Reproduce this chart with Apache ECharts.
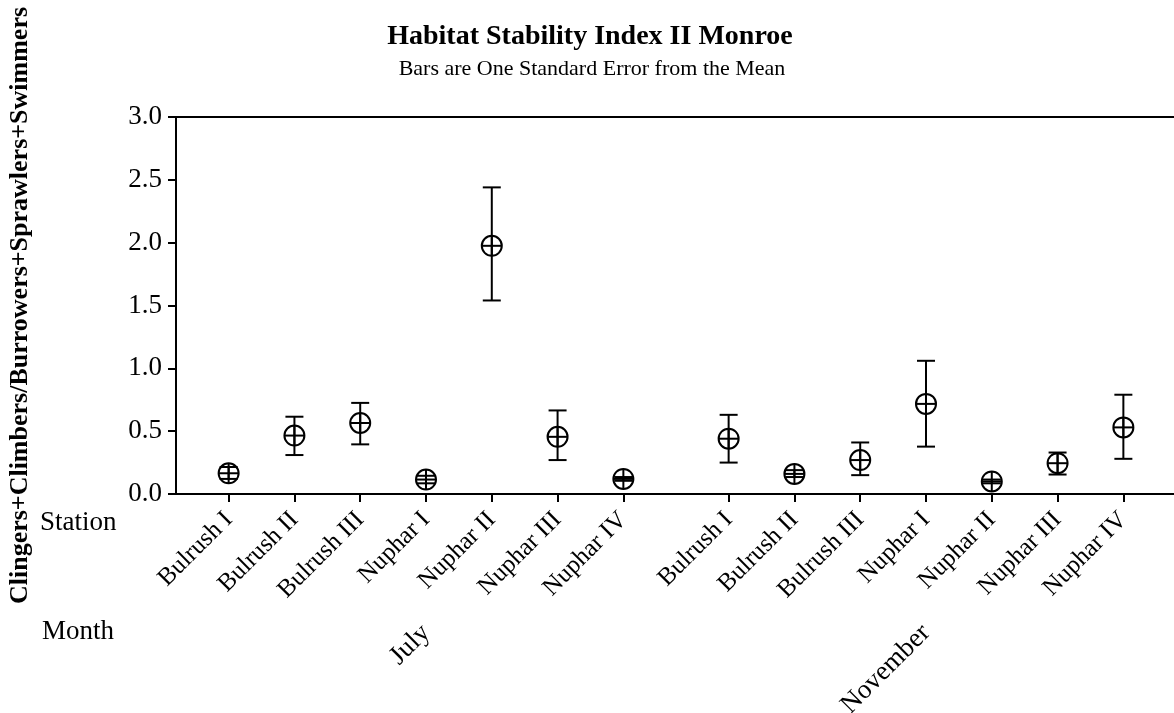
<!DOCTYPE html>
<html>
<head>
<meta charset="utf-8">
<script src="https://cdn.jsdelivr.net/npm/echarts@6/dist/echarts.min.js"></script>
<style>
html,body{margin:0;padding:0;background:#fff;}
#chart{width:1174px;height:713px;}
</style>
</head>
<body>
<div id="chart"></div>
<script>
// ---- data ----
var stations = ['Bulrush I','Bulrush II','Bulrush III','Nuphar I','Nuphar II','Nuphar III','Nuphar IV'];
var months = ['July','November'];
var means = [0.165,0.465,0.565,0.115,1.975,0.455,0.12, 0.44,0.16,0.27,0.717,0.10,0.245,0.53];
var lowers = [0.12,0.31,0.395,0.085,1.54,0.27,0.105, 0.25,0.135,0.15,0.377,0.085,0.155,0.28];
var uppers = [0.215,0.615,0.725,0.145,2.44,0.665,0.135, 0.63,0.19,0.41,1.06,0.115,0.33,0.79];

var FONT = "'Liberation Serif','Times New Roman',serif";
var groupGap = 0.6;
var positions = [], labelMap = {}, monthCenters = [], monthMap = {};
months.forEach(function(m, mi){
  stations.forEach(function(s, si){
    var p = mi*(stations.length + groupGap) + si;
    positions.push(p);
    labelMap[p.toFixed(2)] = s;
  });
  var c = mi*(stations.length + groupGap) + (stations.length-1)/2;
  monthCenters.push(c);
  monthMap[c.toFixed(2)] = m;
});
var seriesData = means.map(function(v,i){ return [positions[i], v, lowers[i], uppers[i]]; });

var chart = echarts.init(document.getElementById('chart'), null, {renderer:'canvas'});
var xMin = -0.8, xMax = positions[positions.length-1] + 0.8;

var option = {
  animation:false,
  backgroundColor:'#fff',
  graphic:[
    {type:'text', x:590, y:37, style:{text:'Habitat Stability Index II Monroe', font:'bold 28px '+FONT, fill:'#000', align:'center', verticalAlign:'middle'}},
    {type:'text', x:592, y:69, style:{text:'Bars are One Standard Error from the Mean', font:'22px '+FONT, fill:'#000', align:'center', verticalAlign:'middle'}},
    {type:'text', x:40, y:523, style:{text:'Station', font:'27px '+FONT, fill:'#000', align:'left', verticalAlign:'middle'}},
    {type:'text', x:42, y:632, style:{text:'Month', font:'27px '+FONT, fill:'#000', align:'left', verticalAlign:'middle'}}
  ],
  grid:{left:176, right:-2, top:117, bottom:219, containLabel:false, outerBoundsMode:'none'},
  xAxis:[
    {type:'value', position:'bottom', min:xMin, max:xMax,
     axisLine:{show:true, onZero:false, lineStyle:{color:'#000', width:2}},
     axisTick:{show:true, inside:false, length:8, customValues:positions, lineStyle:{color:'#000', width:2}},
     axisLabel:{show:true, customValues:positions, rotate:45, margin:22, fontSize:25, fontFamily:FONT, color:'#000',
       formatter:function(v){ return labelMap[Number(v).toFixed(2)] || ''; }},
     splitLine:{show:false}},
    {type:'value', position:'bottom', offset:135, min:xMin, max:xMax,
     axisLine:{show:false}, axisTick:{show:false},
     axisLabel:{show:true, customValues:monthCenters, rotate:45, margin:0, fontSize:27, fontFamily:FONT, color:'#000',
       formatter:function(v){ return monthMap[Number(v).toFixed(2)] || ''; }},
     splitLine:{show:false}},
    {type:'value', position:'top', min:xMin, max:xMax,
     axisLine:{show:true, onZero:false, lineStyle:{color:'#000', width:2}},
     axisTick:{show:false}, axisLabel:{show:false}, splitLine:{show:false}}
  ],
  yAxis:{type:'value', min:0, max:3, interval:0.5,
    name:'Clingers+Climbers/Burrowers+Sprawlers+Swimmers', nameLocation:'middle', nameRotate:90, nameGap:143,
    nameTextStyle:{fontFamily:FONT, fontWeight:'bold', fontSize:26, color:'#000'},
    axisLine:{show:true, onZero:false, lineStyle:{color:'#000', width:2}},
    axisTick:{show:true, inside:false, length:8, lineStyle:{color:'#000', width:2}},
    axisLabel:{margin:14, fontSize:27, fontFamily:FONT, color:'#000', formatter:function(v){ return v.toFixed(1); }},
    splitLine:{show:false}},
  series:[{
    type:'custom', xAxisIndex:0, yAxisIndex:0,
    data:seriesData,
    renderItem:function(params, api){
      var x = api.value(0);
      var m = api.coord([x, api.value(1)]);
      var lo = api.coord([x, api.value(2)]);
      var hi = api.coord([x, api.value(3)]);
      var cap = 9, r = 10;
      var st = {stroke:'#000', lineWidth:2, fill:null};
      return {type:'group', children:[
        {type:'line', shape:{x1:lo[0], y1:lo[1], x2:hi[0], y2:hi[1]}, style:st},
        {type:'line', shape:{x1:lo[0]-cap, y1:lo[1], x2:lo[0]+cap, y2:lo[1]}, style:st},
        {type:'line', shape:{x1:hi[0]-cap, y1:hi[1], x2:hi[0]+cap, y2:hi[1]}, style:st},
        {type:'circle', shape:{cx:m[0], cy:m[1], r:r}, style:{stroke:'#000', lineWidth:2, fill:'none'}},
        {type:'line', shape:{x1:m[0]-r, y1:m[1], x2:m[0]+r, y2:m[1]}, style:st},
        {type:'line', shape:{x1:m[0], y1:m[1]-r, x2:m[0], y2:m[1]+r}, style:st}
      ]};
    }
  }]
};
chart.setOption(option);
</script>
</body>
</html>
